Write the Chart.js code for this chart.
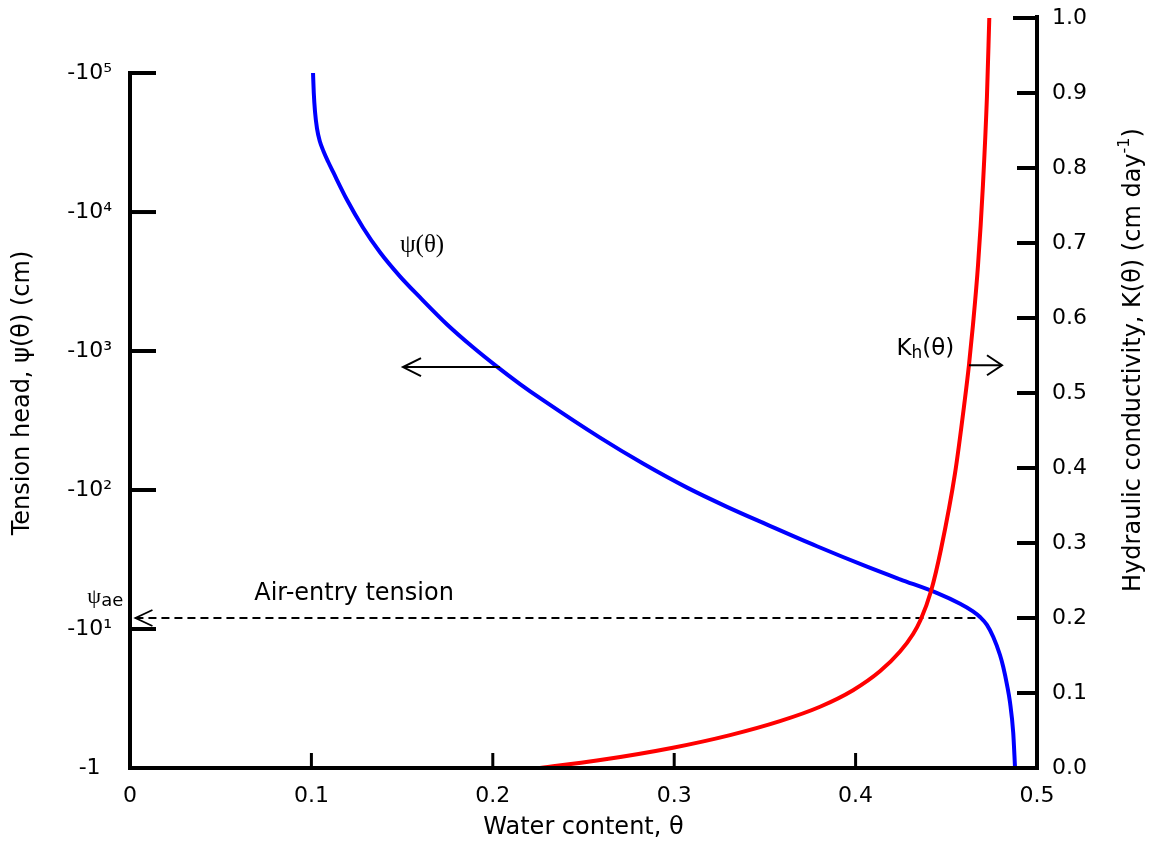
<!DOCTYPE html>
<html>
<head>
<meta charset="utf-8">
<script src="https://cdn.jsdelivr.net/npm/chart.js@4.4.0/dist/chart.umd.min.js"></script>
<style>
  html, body { margin: 0; padding: 0; background: #fff; }
  #wrap { width: 1156px; height: 846px; }
</style>
</head>
<body>
<div id="wrap"><canvas id="canvas" width="1156" height="846"></canvas></div>
<script>
// water content (θ) and tension head |ψ| (cm)
const thetaPsi = [0.1009, 0.1013, 0.1020, 0.1031, 0.1046, 0.1066, 0.1093, 0.1119, 0.1196, 0.1285,
  0.1378, 0.1488, 0.1599, 0.1748, 0.1891, 0.2023, 0.2150, 0.2277, 0.2591, 0.2828,
  0.3071, 0.3291, 0.3512, 0.3787, 0.4063, 0.4245, 0.4447, 0.4576, 0.4647, 0.4686,
  0.4724, 0.4759, 0.4796, 0.4814, 0.4835, 0.4851, 0.4869, 0.4879];
const psiTension = [100000, 72400, 52500, 39800, 32400, 27500, 22900, 19500, 12260, 7710,
  5130, 3445, 2430, 1553, 1064, 773, 579, 443, 238, 155,
  104, 75.7, 56.4, 39.4, 28.1, 22.8, 18.2, 15.2, 13.4, 12.2,
  10.7, 8.75, 6.5, 5.33, 3.95, 2.98, 1.79, 1];

// water content (θ) and hydraulic conductivity K (cm/day)
const thetaK = [0.2260, 0.2574, 0.2993, 0.3308, 0.3583, 0.3804, 0.3986, 0.4134, 0.4245,
  0.4317, 0.4358, 0.4416, 0.4471, 0.4548, 0.4602, 0.4625, 0.4647, 0.4675, 0.4702,
  0.4724, 0.4737];
const kValues = [0, 0.0099, 0.0271, 0.0439, 0.0625, 0.0817, 0.1037, 0.1289, 0.1553,
  0.1787, 0.1973, 0.236, 0.292, 0.3928, 0.4907, 0.5373, 0.5907, 0.6707, 0.7773,
  0.8947, 1.0];

// air-entry line (on the K axis scale)
const airEntryTheta = [0.003, 0.4686];
const airEntryK = [0.2, 0.2];

// ticks
const psiTicks = [1, 10, 100, 1000, 10000, 100000];
const psiTickLabels = ["-1", "-10\u00b9", "-10\u00b2", "-10\u00b3", "-10\u2074", "-10\u2075"];
const thetaTicks = [0, 0.1, 0.2, 0.3, 0.4, 0.5];
const kTicks = [0, 0.1, 0.2, 0.3, 0.4, 0.5, 0.6, 0.7, 0.8, 0.9, 1.0];

const psiMax = Math.pow(10, 5.396);
const FONT = "'DejaVu Sans', Verdana, sans-serif";

const toPoints = (xs, ys) => xs.map((x, i) => ({ x: x, y: ys[i] }));

// draw text pieces one after another (sub/superscripts)
const drawScript = (ctx, x, y, parts) => {
  let cx = x;
  parts.forEach(p => {
    ctx.font = p.font;
    ctx.fillText(p.text, cx, y + (p.dy || 0));
    cx += ctx.measureText(p.text).width;
  });
};

const arrowHead = (ctx, tx, ty, dir, dx, dy) => {
  ctx.beginPath();
  ctx.moveTo(tx + dir * dx, ty - dy);
  ctx.lineTo(tx, ty);
  ctx.lineTo(tx + dir * dx, ty + dy);
  ctx.stroke();
};

const decorPlugin = {
  id: "decor",
  afterDatasetsDraw(chart) {
    const { ctx, chartArea: a, scales } = chart;
    const x = scales.x, y = scales.y, y2 = scales.y2;
    ctx.save();
    ctx.strokeStyle = "#000";
    ctx.fillStyle = "#000";
    ctx.lineJoin = "miter";

    // left + bottom axis
    const yTop = y.getPixelForValue(psiTicks[psiTicks.length - 1]);
    ctx.lineWidth = 4;
    ctx.beginPath();
    ctx.moveTo(a.left + 26, yTop);
    ctx.lineTo(a.left, yTop);
    ctx.lineTo(a.left, a.bottom);
    ctx.lineTo(a.right, a.bottom);
    ctx.stroke();
    // right axis
    ctx.beginPath();
    ctx.moveTo(a.right, a.bottom + 2);
    ctx.lineTo(a.right, a.top - 3);
    ctx.stroke();

    // left ticks (inward)
    psiTicks.slice(1, -1).forEach(v => {
      const py = y.getPixelForValue(v);
      ctx.beginPath();
      ctx.moveTo(a.left, py);
      ctx.lineTo(a.left + 26, py);
      ctx.stroke();
    });
    // right ticks (inward)
    kTicks.slice(1).forEach(v => {
      const py = y2.getPixelForValue(v);
      ctx.beginPath();
      ctx.moveTo(a.right - (v === 1 ? 24 : 20), py);
      ctx.lineTo(a.right + (v === 1 ? 2 : 0), py);
      ctx.stroke();
    });
    // bottom ticks (inward)
    ctx.lineWidth = 3;
    thetaTicks.slice(1, -1).forEach(v => {
      const px = x.getPixelForValue(v);
      ctx.beginPath();
      ctx.moveTo(px, a.bottom);
      ctx.lineTo(px, a.bottom - 15);
      ctx.stroke();
    });

    // arrows
    ctx.lineWidth = 2;
    const ly = y.getPixelForValue(767);
    const lx0 = x.getPixelForValue(0.204), lx1 = x.getPixelForValue(0.1505);
    ctx.beginPath();
    ctx.moveTo(lx0, ly);
    ctx.lineTo(lx1, ly);
    ctx.stroke();
    arrowHead(ctx, lx1, ly, 1, 18, 9);

    const ry = y2.getPixelForValue(0.537);
    const rx0 = x.getPixelForValue(0.4625), rx1 = x.getPixelForValue(0.4807);
    ctx.beginPath();
    ctx.moveTo(rx0, ry);
    ctx.lineTo(rx1, ry);
    ctx.stroke();
    arrowHead(ctx, rx1, ry, -1, 15, 10);

    ctx.lineWidth = 1.8;
    arrowHead(ctx, x.getPixelForValue(airEntryTheta[0]), y2.getPixelForValue(airEntryK[0]), 1, 17, 8);

    // labels
    ctx.textBaseline = "middle";
    ctx.textAlign = "center";
    ctx.font = "25px 'Liberation Serif', serif";
    ctx.fillText("\u03c8(\u03b8)", x.getPixelForValue(0.161), y.getPixelForValue(5790));

    ctx.font = "24px " + FONT;
    ctx.fillText("Air-entry tension", x.getPixelForValue(0.1235), y2.getPixelForValue(0.232));

    ctx.textAlign = "left";
    drawScript(ctx, x.getPixelForValue(0.4225), y2.getPixelForValue(0.559), [
      { text: "K", font: "23px " + FONT },
      { text: "h", font: "17px " + FONT, dy: 5 },
      { text: "(\u03b8)", font: "23px " + FONT }
    ]);
    drawScript(ctx, x.getPixelForValue(-0.0235), y2.getPixelForValue(0.228), [
      { text: "\u03c8", font: "22px 'Liberation Serif', serif" },
      { text: "ae", font: "18px " + FONT, dy: 4 }
    ]);

    // right axis title, reading bottom to top
    ctx.save();
    ctx.translate(1134, (a.top + a.bottom) / 2 - 33);
    ctx.rotate(-Math.PI / 2);
    const tParts = [
      { text: "Hydraulic conductivity, K(\u03b8) (cm day", font: "24px " + FONT },
      { text: "-1", font: "16px " + FONT, dy: -9 },
      { text: ")", font: "24px " + FONT }
    ];
    let w = 0;
    tParts.forEach(p => { ctx.font = p.font; w += ctx.measureText(p.text).width; });
    drawScript(ctx, -w / 2, 0, tParts);
    ctx.restore();

    ctx.restore();
  }
};

new Chart(document.getElementById("canvas").getContext("2d"), {
  type: "line",
  data: {
    datasets: [
      {
        label: "air entry",
        data: toPoints(airEntryTheta, airEntryK),
        yAxisID: "y2",
        borderColor: "#000",
        borderWidth: 1.8,
        borderDash: [8, 5],
        pointRadius: 0,
        order: 3
      },
      {
        label: "psi",
        data: toPoints(thetaPsi, psiTension),
        yAxisID: "y",
        borderColor: "#0000ff",
        borderWidth: 4,
        pointRadius: 0,
        cubicInterpolationMode: "monotone",
        clip: 4,
        order: 2
      },
      {
        label: "K",
        data: toPoints(thetaK, kValues),
        yAxisID: "y2",
        borderColor: "#ff0000",
        borderWidth: 4,
        pointRadius: 0,
        cubicInterpolationMode: "monotone",
        clip: 4,
        order: 1
      }
    ]
  },
  options: {
    responsive: false,
    animation: false,
    devicePixelRatio: 1,
    layout: { padding: { top: 18 } },
    plugins: { legend: { display: false }, tooltip: { enabled: false } },
    scales: {
      x: {
        type: "linear",
        position: "bottom",
        min: 0,
        max: 0.5,
        afterBuildTicks: (s) => { s.ticks = thetaTicks.map(v => ({ value: v })); },
        afterFit: (s) => { s.height = 78; },
        grid: { display: false, drawTicks: false },
        border: { display: false },
        ticks: {
          padding: 15,
          color: "#000",
          font: { family: FONT, size: 22 },
          maxRotation: 0,
          callback: (v) => (v === 0 ? "0" : v.toFixed(1))
        },
        title: {
          display: true,
          text: "Water content, \u03b8",
          color: "#000",
          font: { family: FONT, size: 24 },
          padding: { top: 0, bottom: 4 }
        }
      },
      y: {
        type: "logarithmic",
        position: "left",
        min: 1,
        max: psiMax,
        afterBuildTicks: (s) => { s.ticks = psiTicks.map(v => ({ value: v })); },
        afterFit: (s) => { s.width = 130; s.paddingTop = 0; s.paddingBottom = 0; },
        grid: { display: false, drawTicks: false },
        border: { display: false },
        ticks: {
          padding: 18,
          crossAlign: "center",
          color: "#000",
          font: { family: FONT, size: 22 },
          callback: (v) => psiTickLabels[psiTicks.indexOf(v)]
        },
        title: {
          display: true,
          text: "Tension head, \u03c8(\u03b8) (cm)",
          color: "#000",
          font: { family: FONT, size: 24 },
          padding: { top: 8, bottom: 0 }
        }
      },
      y2: {
        type: "linear",
        position: "right",
        min: 0,
        max: 1,
        afterBuildTicks: (s) => { s.ticks = kTicks.map(v => ({ value: v })); },
        afterFit: (s) => { s.width = 119; s.paddingTop = 0; s.paddingBottom = 0; },
        grid: { display: false, drawTicks: false },
        border: { display: false },
        ticks: {
          padding: 15,
          color: "#000",
          font: { family: FONT, size: 22 },
          callback: (v) => v.toFixed(1)
        }
      }
    }
  },
  plugins: [decorPlugin]
});
</script>
</body>
</html>
